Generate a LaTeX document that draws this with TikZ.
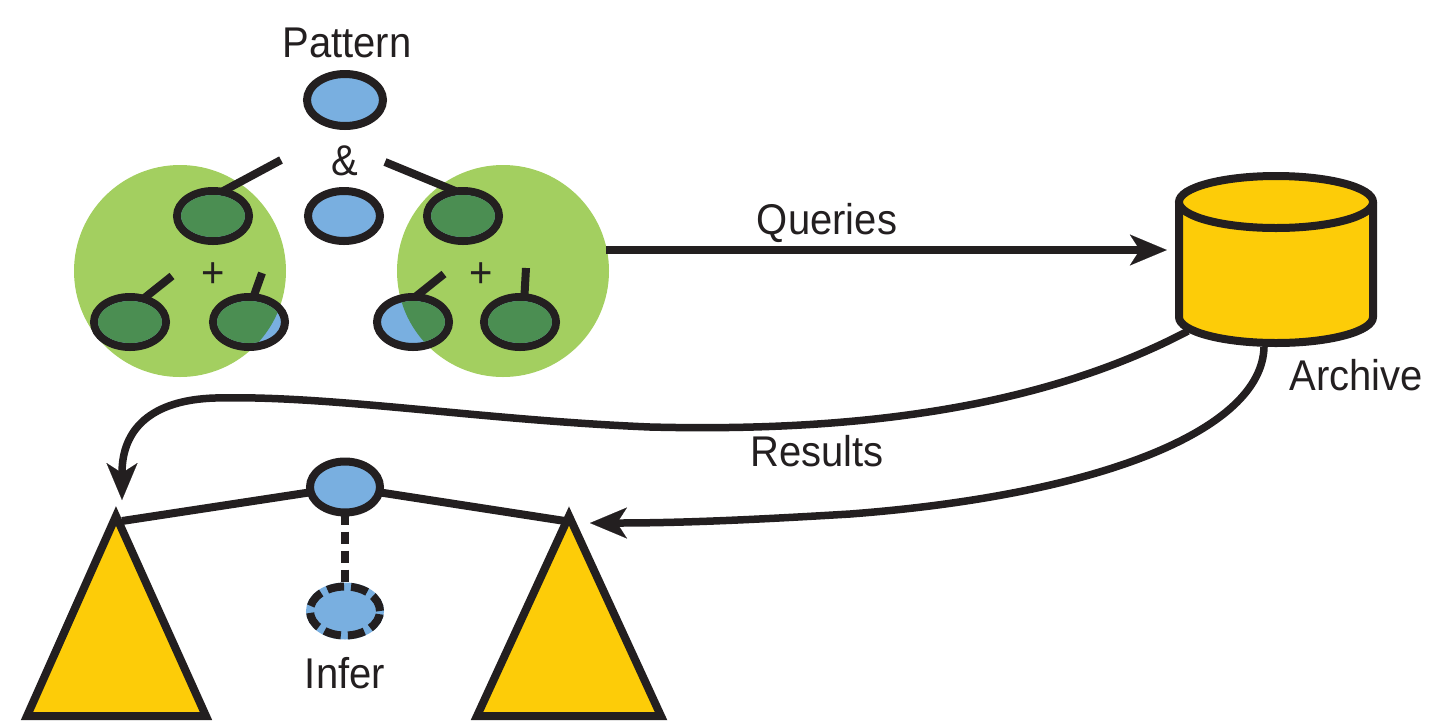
\documentclass[tikz,border=0pt]{standalone}
\usepackage{fontspec}
\setmainfont{Liberation Sans}[FakeStretch=0.93]
\usetikzlibrary{shapes.geometric, arrows.meta}
\definecolor{ink}{HTML}{231F20}
\definecolor{sky}{HTML}{79AFE0}
\definecolor{leaf}{HTML}{A3CF60}
\definecolor{moss}{HTML}{4B8E52}
\definecolor{gold}{HTML}{FDCC08}
\begin{document}
\begin{tikzpicture}[x=1pt,y=-1pt,
  blob/.style={ellipse, draw=ink, line width=8pt, fill=sky, minimum width=72pt, minimum height=50pt, inner sep=0pt, outer sep=0pt},
  bigdisc/.style={circle, fill=leaf, minimum size=212pt, inner sep=0pt},
  wire/.style={draw=ink, line width=8pt},
  flow/.style={draw=ink, line width=7.5pt, -{Stealth[length=37pt,width=31pt,inset=10pt,line width=0.1pt]}},
  lab/.style={font=\fontsize{43}{50}\selectfont, text=ink, inner sep=0pt, anchor=base},
  tri/.style={draw=ink, fill=gold, line width=8pt, line join=miter},
  cyl/.style={draw=ink, fill=gold, line width=8pt}
]
\useasboundingbox (0,0) rectangle (1429,721);

% top pattern
\node[lab] (pattern) at (347,57) {Pattern};
\node[blob, minimum width=76pt, minimum height=52pt] (top) at (345,100) {};
\node[lab] (and) at (345,175) {\&};
\node[blob] (mid) at (344,216) {};

% green discs
\node[bigdisc] (lc) at (180,271) {};
\node[bigdisc] (rc) at (503,271) {};

\node[blob] (l1) at (213,216) {};
\node[blob] (l2) at (130,322) {};
\node[blob] (l3) at (249,322) {};
\node[blob] (r1) at (463,216) {};
\node[blob] (r2) at (413,322) {};
\node[blob] (r3) at (520,322) {};

\begin{scope}
  \clip (lc.center) circle[radius=106];
  \foreach \n in {l1,l2,l3} \fill[moss] (\n.center) ellipse[x radius=32, y radius=21];
\end{scope}
\begin{scope}
  \clip (rc.center) circle[radius=106];
  \foreach \n in {r1,r2,r3} \fill[moss] (\n.center) ellipse[x radius=32, y radius=21];
\end{scope}

\node[lab, anchor=center] (lplus) at (213,275) {+};
\node[lab, anchor=center] (rplus) at (481,275) {+};

\coordinate (ftl) at (281,160);
\coordinate (ftr) at (385,162);
\coordinate (fl2) at (172,276);
\coordinate (fl3) at (262,273);
\coordinate (fr2) at (444,274);
\coordinate (fr3) at (526,268);
\draw[wire] (ftl) -- (l1.70);
\draw[wire] (ftr) -- (r1.105);
\draw[wire] (fl2) -- (l2.60);
\draw[wire] (fl3) -- (l3.80);
\draw[wire] (fr2) -- (r2.85);
\draw[wire] (fr3) -- (r3.80);

% archive
\node[inner sep=0pt, minimum width=202pt, minimum height=175pt] (archive) at (1276,259.5) {};
\draw[cyl] (1179,202) -- (1179,317) arc[start angle=180, end angle=0, x radius=97, y radius=26] -- (1373,202);
\draw[cyl] (1276,202) ellipse[x radius=97, y radius=26];
\node[lab] (archlab) at (1356,390) {Archive};

% queries
\coordinate (qend) at ([xshift=-8pt, yshift=9.5pt]archive.west);
\draw[flow] (qend -| rc.east) ++(-3,0) -- (qend);
\node[lab] (querylab) at (827,234) {Queries};

% bottom trees
\coordinate (lapex) at (116,516);
\coordinate (rapex) at (569,516);
\draw[tri] (lapex) -- (27,716) -- (206,716) -- cycle;
\draw[tri] (rapex) -- (477,716) -- (661,716) -- cycle;
\coordinate (ljoin) at (122,521);
\coordinate (rjoin) at (565,521);

\node[blob, minimum width=70pt, minimum height=51pt] (root) at (345,487) {};
\draw[wire] (root) -- (ljoin);
\draw[wire] (root) -- (rjoin);

\node[blob, minimum width=70pt, minimum height=49pt, dash pattern=on 17pt off 7pt, preaction={draw=sky, solid}] (infer) at (345,611) {};
\draw[wire, dash pattern=on 12pt off 7pt] (root) -- (infer);
\node[lab] (inferlab) at (345,688) {Infer};

% results
\coordinate (resA) at (1188,331);
\coordinate (resB) at (1264,347);
\coordinate (ltip) at (122,500);
\coordinate (rtip) at (590,523);
\draw[flow] (resA) .. controls (1038,410) and (850,432) .. (650,427)
  .. controls (480,420) and (330,395) .. (215,398)
  .. controls (150,400) and (122,430) .. (ltip);
\draw[flow] (resB) .. controls (1262,430) and (1100,495) .. (850,514)
  .. controls (750,520) and (680,523) .. (rtip);
\node[lab] (reslab) at (817,466) {Results};
\end{tikzpicture}
\end{document}
